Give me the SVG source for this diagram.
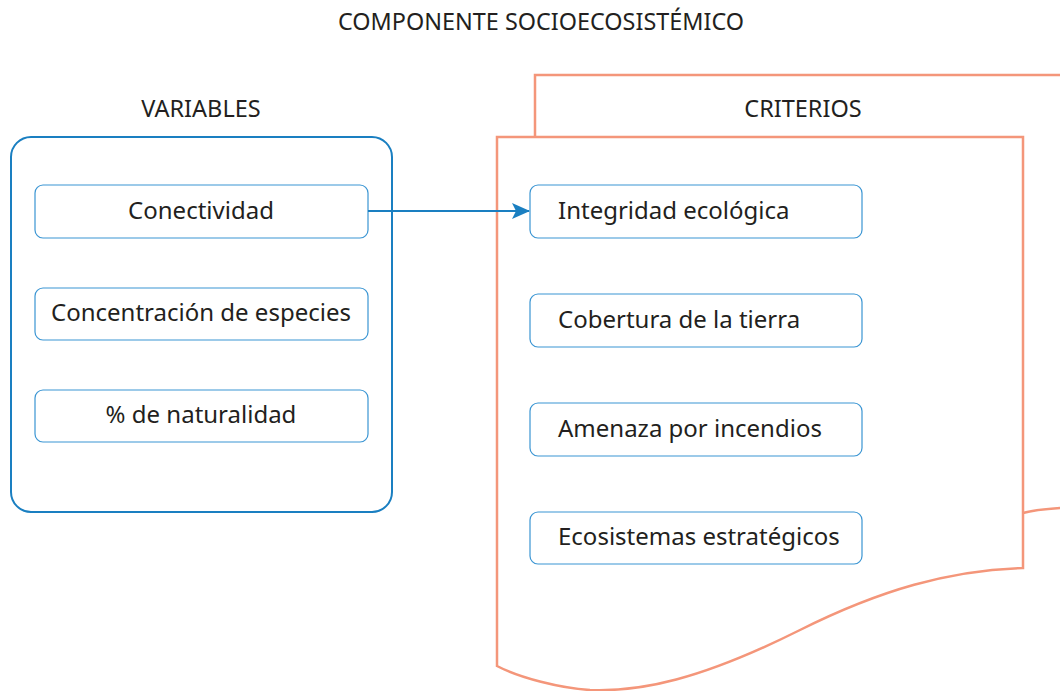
<svg xmlns="http://www.w3.org/2000/svg" width="1060" height="691" viewBox="0 0 1060 691">
<defs>
<style>
.t{font-family:"Noto Sans","Open Sans",sans-serif;fill:#231f20}
.h{font-size:23.5px}
.b{font-size:24px}
.box{fill:#fff;stroke:#3a95d3;stroke-width:1.2}
.page{fill:#fff;stroke:#f4967a;stroke-width:2.5}
</style>
<marker id="ah" markerWidth="18" markerHeight="16" refX="17" refY="8" orient="auto" markerUnits="userSpaceOnUse" viewBox="0 0 18 16">
<path d="M0,0 L18,8 L0,16 L4,8 Z" fill="#1a7fc1"/>
</marker>
</defs>
<rect width="1060" height="691" fill="#fff"/>
<text class="t h" x="541" y="30" text-anchor="middle" textLength="406" lengthAdjust="spacingAndGlyphs">COMPONENTE SOCIOECOSISTÉMICO</text>

<g id="criterios">
<path class="page" d="M535,137 L535,75 L1062,75 L1062,508 L1060,508 C1045,509 1030,511 1023,513"/>
<path class="page" d="M497,137 L1023,137 L1023,568 C950,570 880,590 800,630 C700,680 640,692 590,690 C560,688 520,678 497,666 Z"/>
<text class="t h" x="803" y="117" text-anchor="middle">CRITERIOS</text>
</g>

<g id="variables">
<rect x="11" y="137" width="381" height="375" rx="20" fill="#fff" stroke="#1a7fc1" stroke-width="2"/>
<text class="t h" x="201" y="117" text-anchor="middle">VARIABLES</text>
</g>

<g id="v1"><rect class="box" x="35" y="185" width="333" height="53" rx="8"/><text class="t b" x="201" y="219" text-anchor="middle">Conectividad</text></g>
<g id="v2"><rect class="box" x="35" y="288" width="333" height="52" rx="8"/><text class="t b" x="201" y="321" text-anchor="middle">Concentración de especies</text></g>
<g id="v3"><rect class="box" x="35" y="390" width="333" height="52" rx="8"/><text class="t b" x="201" y="423" text-anchor="middle">% de naturalidad</text></g>

<g id="c1"><rect class="box" x="530" y="185" width="332" height="53" rx="8"/><text class="t b" x="558" y="219">Integridad ecológica</text></g>
<g id="c2"><rect class="box" x="530" y="294" width="332" height="53" rx="8"/><text class="t b" x="558" y="328">Cobertura de la tierra</text></g>
<g id="c3"><rect class="box" x="530" y="403" width="332" height="53" rx="8"/><text class="t b" x="558" y="437">Amenaza por incendios</text></g>
<g id="c4"><rect class="box" x="530" y="512" width="332" height="52" rx="8"/><text class="t b" x="558" y="545">Ecosistemas estratégicos</text></g>

<g id="connectors">
<line x1="368" y1="211" x2="529" y2="211" stroke="#1a7fc1" stroke-width="2" marker-end="url(#ah)"/>
</g>
</svg>
